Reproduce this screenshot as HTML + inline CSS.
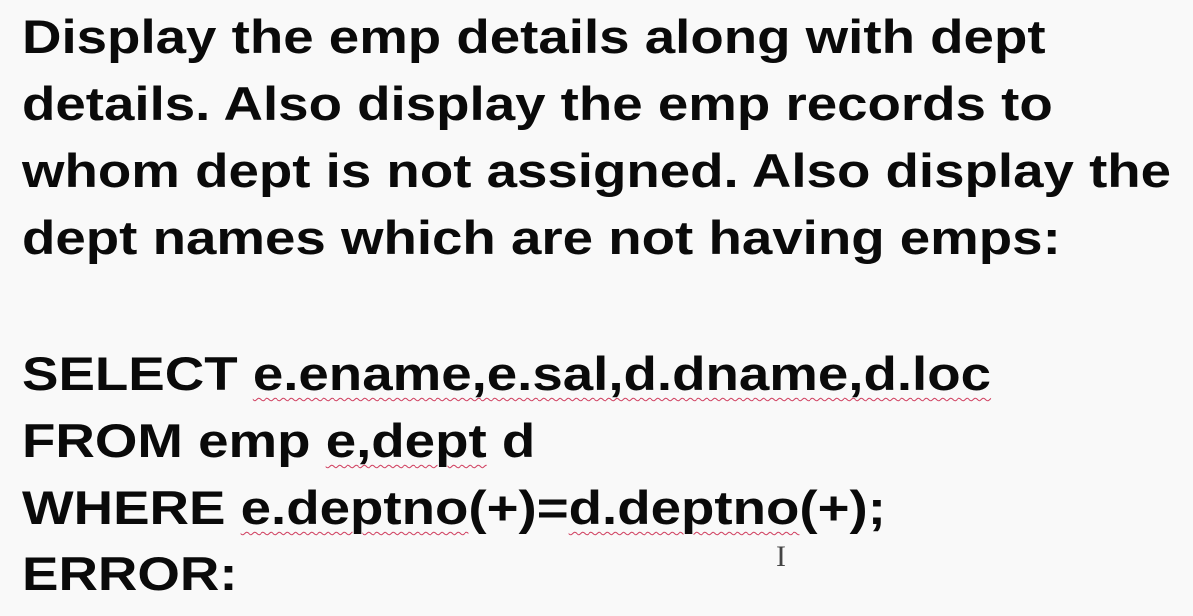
<!DOCTYPE html>
<html><head><style>
body{margin:0;width:1193px;height:616px;background:#f9f9f9;overflow:hidden;position:relative;font-family:"Liberation Sans",Arial,sans-serif;font-weight:bold;font-size:47px;color:#0a0a0a}
.l{position:absolute;left:22px;line-height:67px;white-space:nowrap;transform:scaleX(1.163);transform-origin:0 0}
.w{text-decoration:underline wavy #d04060;text-decoration-thickness:1px;text-underline-offset:7px}
</style></head><body>
<div class="l" style="top:3px">Display the emp details along with dept</div>
<div class="l" style="top:70px">details. Also display the emp records to</div>
<div class="l" style="top:137px">whom dept is not assigned. Also display the</div>
<div class="l" style="top:204px">dept names which are not having emps:</div>
<div class="l" style="top:340px">SELECT <span class="w">e.ename,e.sal,d.dname,d.loc</span></div>
<div class="l" style="top:407px">FROM emp <span class="w">e,dept</span> d</div>
<div class="l" style="top:474px">WHERE <span class="w">e.deptno</span>(+)=<span class="w">d.deptno</span>(+);</div>
<div class="l" style="top:540px">ERROR:</div>
<div style="position:absolute;left:776px;top:540px;font-weight:normal;font-family:'Liberation Serif',serif;font-size:30px;color:#444">I</div>
</body></html>
